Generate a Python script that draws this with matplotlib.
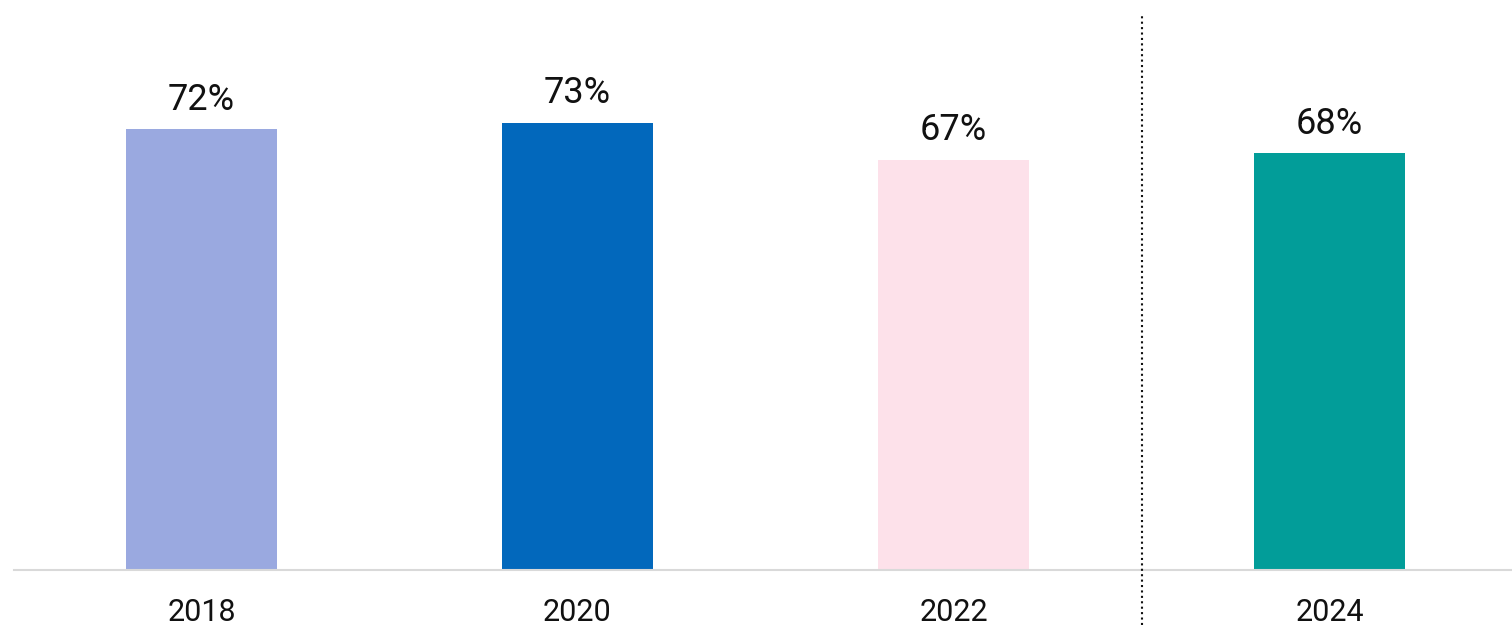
import matplotlib
matplotlib.use("Agg")
import matplotlib.pyplot as plt

years = ["2018", "2020", "2022", "2024"]
values = [72, 73, 67, 68]
colors = ["#9AA9E0", "#0268BC", "#FDE1EA", "#029D99"]

plt.rcParams['font.family'] = ['Roboto', 'DejaVu Sans']

W, H = 1512, 634
fig = plt.figure(figsize=(W/100, H/100), dpi=100)
base_px = 570
top_px = 14
ax = fig.add_axes([13.5/W, (H-base_px)/H, 1 - 13.5/W, (base_px-top_px)/H])

x = list(range(len(years)))
ax.bar(x, values, width=0.4, color=colors, zorder=2)
ax.set_xlim(-0.5, (W-201.5)/376)
ymax = (base_px-top_px)/6.125
ax.set_ylim(0, ymax)

for xi, v in zip(x, values):
    ax.annotate(f"{v}%", (xi, v), xytext=(0, 14), textcoords="offset points",
                ha="center", va="baseline", fontsize=26, color="#111111")

ax.set_xticks(x)
ax.set_xticklabels(years, fontsize=22, color="#111111")
ax.tick_params(axis="x", length=0, pad=20)
ax.set_yticks([])
for s in ["top", "right", "left"]:
    ax.spines[s].set_visible(False)
ax.spines["bottom"].set_color("#D9D9D9")
ax.spines["bottom"].set_linewidth(1.5)

ax.axvline(2.5, ymin=-9/ymax, ymax=1, color="#111111", linewidth=1.5,
           linestyle=(0, (1, 1.6)), clip_on=False, zorder=3)

fig.savefig("out.png", dpi=100)
